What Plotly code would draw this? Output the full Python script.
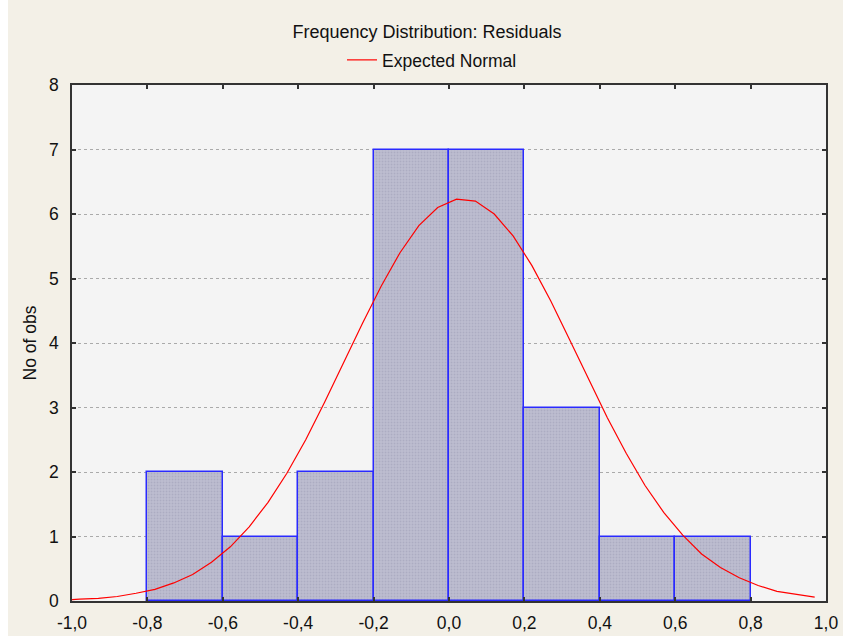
import plotly.graph_objects as go

bin_left = [-0.8, -0.6, -0.4, -0.2, 0.0, 0.2, 0.4, 0.6]
counts = [2, 1, 2, 7, 7, 3, 1, 1]
bin_width = 0.2

curve_x = [-1.0, -0.98, -0.93, -0.88, -0.83, -0.78, -0.73, -0.68, -0.63, -0.58, -0.53,
           -0.48, -0.43, -0.38, -0.33, -0.28, -0.23, -0.18, -0.13, -0.08, -0.03,
           0.02, 0.07, 0.12, 0.17, 0.22, 0.27, 0.32, 0.37, 0.42, 0.47,
           0.52, 0.57, 0.62, 0.67, 0.72, 0.77, 0.82, 0.87, 0.92, 0.97]
curve_y = [0.02, 0.03, 0.04, 0.07, 0.12, 0.18, 0.28, 0.41, 0.60, 0.84, 1.15,
           1.53, 1.98, 2.50, 3.08, 3.69, 4.30, 4.88, 5.40, 5.82, 6.10,
           6.23, 6.20, 6.00, 5.66, 5.20, 4.65, 4.05, 3.44, 2.84, 2.29,
           1.79, 1.37, 1.02, 0.73, 0.52, 0.36, 0.24, 0.15, 0.10, 0.06]

x_ticks = [-1.0, -0.8, -0.6, -0.4, -0.2, 0.0, 0.2, 0.4, 0.6, 0.8, 1.0]
x_tick_text = ["-1,0", "-0,8", "-0,6", "-0,4", "-0,2", "0,0", "0,2", "0,4", "0,6", "0,8", "1,0"]
y_ticks = [0, 1, 2, 3, 4, 5, 6, 7, 8]

W, H = 843, 636
L, R, T, B = 72, 17, 85, 35
PW, PH = W - L - R, H - T - B

fig = go.Figure()
fig.add_trace(go.Bar(
    x=[b + bin_width / 2 for b in bin_left],
    y=counts,
    width=[bin_width] * len(counts),
    marker=dict(color="#B8B8CC", line=dict(color="#2A2AFF", width=1.5),
                pattern=dict(shape=".", size=3, solidity=0.3, fgcolor="#9C9CB4", bgcolor="#BDBDD0")),
    showlegend=False,
))
fig.add_trace(go.Scatter(
    x=curve_x, y=curve_y, mode="lines",
    line=dict(color="#FF0000", width=1.2),
    name="Expected Normal",
))

FS = 17.5
fig.update_layout(
    width=W, height=H,
    paper_bgcolor="#F3F0E7",
    plot_bgcolor="#F4F4F4",
    margin=dict(l=L, r=R, t=T, b=B, autoexpand=False),
    font=dict(family="Liberation Sans, Arial, sans-serif", size=FS, color="#111111"),
    title=dict(text="Frequency Distribution: Residuals", x=(427 - 0) / W, xanchor="center",
               y=1 - 32 / H, yanchor="middle", font=dict(size=18)),
    legend=dict(orientation="h", x=0.5 - 17 / PW, xanchor="center", y=1 + 25 / PH, yanchor="middle",
                bgcolor="rgba(0,0,0,0)", font=dict(size=FS)),
    bargap=0,
    xaxis=dict(range=[-1.0, 1.0], tickvals=x_ticks, ticktext=x_tick_text, automargin=False,
               tickfont=dict(size=FS), ticklabelstandoff=5,
               showgrid=False, zeroline=False, showline=True, linecolor="#333333", linewidth=1.5,
               mirror="ticks", ticks="inside", ticklen=4, tickcolor="#333333", tickwidth=1.5),
    yaxis=dict(range=[0, 8], tickvals=y_ticks, tickfont=dict(size=FS), ticklabelstandoff=8,
               automargin=False,
               title=dict(text="No of obs", standoff=8, font=dict(size=FS)),
               showgrid=True, gridcolor="#AAAAAA", griddash="dot", gridwidth=1,
               zeroline=False, showline=True, linecolor="#333333", linewidth=1.5,
               mirror="ticks", ticks="inside", ticklen=4, tickcolor="#333333", tickwidth=1.5),
    shapes=[dict(type="rect", xref="paper", yref="paper",
                 x0=-L / PW, x1=-(L - 8) / PW, y0=-B / PH, y1=1 + T / PH,
                 fillcolor="#FFFFFF", line=dict(width=0), layer="below")],
)

fig.write_html("out.html", config={"displayModeBar": False},
               post_script="document.body.style.margin='0';")
